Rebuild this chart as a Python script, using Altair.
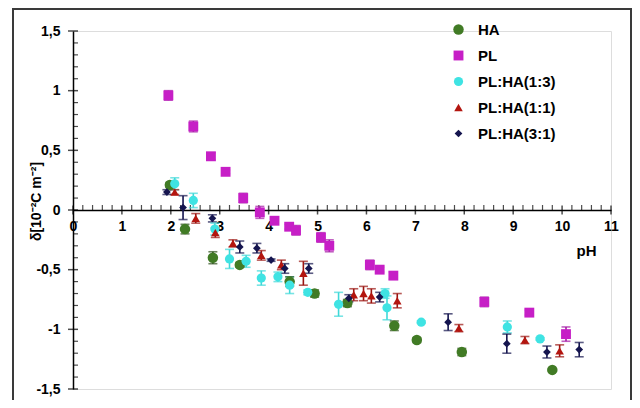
import altair as alt
import pandas as pd

series = ["HA", "PL", "PL:HA(1:3)", "PL:HA(1:1)", "PL:HA(3:1)"]
colors = ["#417b25", "#c61fc6", "#3fe3e3", "#b3150f", "#15154f"]
bar_colors = ["#2c4f1a", "#a51aa5", "#3fd8d8", "#9a1410", "#15154f"]
shapes = ["circle", "square", "circle", "triangle-up", "diamond"]
sizes = [110, 60, 50, 60, 40]

ha_x = [1.98, 2.29, 2.86, 3.41, 4.43, 4.94, 5.61, 6.57, 7.03, 7.95, 9.80]
ha_y = [0.21, -0.16, -0.40, -0.46, -0.60, -0.70, -0.78, -0.97, -1.09, -1.19, -1.34]
ha_e = [0.02, 0.04, 0.05, 0.02, 0.04, 0.03, 0.03, 0.04, 0.02, 0.03, 0.01]

pl_x = [1.95, 2.46, 2.82, 3.12, 3.48, 3.82, 4.12, 4.42, 4.56, 5.07, 5.24, 6.07, 6.27, 6.55, 8.41, 9.33, 10.08]
pl_y = [0.96, 0.70, 0.45, 0.32, 0.10, -0.02, -0.09, -0.14, -0.17, -0.23, -0.30, -0.46, -0.50, -0.55, -0.77, -0.86, -1.04]
pl_e = [0.04, 0.045, 0.03, 0.015, 0.04, 0.05, 0.015, 0.02, 0.04, 0.04, 0.05, 0.04, 0.02, 0.03, 0.04, 0.02, 0.06]

c13_x = [2.08, 2.46, 2.90, 3.20, 3.54, 3.85, 4.19, 4.43, 4.80, 5.43, 6.38, 6.42, 7.12, 8.88, 9.55]
c13_y = [0.22, 0.08, -0.16, -0.41, -0.43, -0.57, -0.56, -0.63, -0.69, -0.79, -0.70, -0.82, -0.94, -0.98, -1.08]
c13_e = [0.05, 0.06, 0.05, 0.08, 0.05, 0.06, 0.04, 0.07, 0.02, 0.10, 0.04, 0.10, 0.01, 0.05, 0.01]

c11_x = [2.08, 2.51, 2.91, 3.27, 3.85, 4.26, 4.71, 5.74, 5.94, 6.10, 6.63, 7.89, 9.24, 9.95]
c11_y = [0.15, -0.07, -0.19, -0.28, -0.38, -0.46, -0.53, -0.71, -0.70, -0.72, -0.76, -0.99, -1.09, -1.18]
c11_e = [0.02, 0.04, 0.04, 0.03, 0.04, 0.04, 0.10, 0.05, 0.06, 0.06, 0.06, 0.03, 0.03, 0.05]

c31_x = [1.92, 2.25, 2.85, 3.41, 3.76, 4.05, 4.33, 4.82, 5.64, 6.27, 7.67, 8.87, 9.69, 10.35]
c31_y = [0.15, 0.02, -0.07, -0.31, -0.32, -0.42, -0.49, -0.49, -0.74, -0.73, -0.94, -1.12, -1.19, -1.17]
c31_e = [0.02, 0.10, 0.03, 0.05, 0.04, 0.01, 0.04, 0.04, 0.03, 0.04, 0.07, 0.08, 0.05, 0.06]

x_major = list(range(0, 12))
x_minor = [round(i * 0.2, 1) for i in range(0, 56) if i % 5 != 0]
y_major = [-1.5, -1.0, -0.5, 0.0, 0.5, 1.0, 1.5]
y_minor = [round(-1.5 + i * 0.1, 1) for i in range(0, 31) if i % 5 != 0]

rows = []
for name, xs_, ys_, es_ in [
    ("PL:HA(1:3)", c13_x, c13_y, c13_e),
    ("PL:HA(1:1)", c11_x, c11_y, c11_e),
    ("PL:HA(3:1)", c31_x, c31_y, c31_e),
    ("PL", pl_x, pl_y, pl_e),
    ("HA", ha_x, ha_y, ha_e),
]:
    i = series.index(name)
    for x, y, e in zip(xs_, ys_, es_):
        rows.append({"series": name, "x": x, "y": y, "lo": y - e, "hi": y + e,
                     "bcol": bar_colors[i], "order": i})
df = pd.DataFrame(rows)

W, H = 538, 358
xs = alt.Scale(domain=[0, 11], nice=False, zero=False)
ys = alt.Scale(domain=[-1.5, 1.5], nice=False, zero=False)

x_axis = alt.Axis(
    values=x_major, offset=-H / 2, ticks=False, tickSize=0, grid=False,
    domainColor="black", domainWidth=1.5, labelPadding=9,
    labelFont="Liberation Sans", labelFontWeight="bold", labelFontSize=14,
    labelColor="black", labelFlush=False, labelOverlap=False,
    title="pH", titleX=513, titleY=33, titleFont="Liberation Sans",
    titleFontWeight="bold", titleFontSize=15, titleColor="black",
)
y_axis = alt.Axis(
    values=y_major, ticks=False, tickSize=0, grid=False,
    domainColor="black", domainWidth=1.5, labelPadding=13,
    labelFont="Liberation Sans", labelFontWeight="bold", labelFontSize=14,
    labelColor="black", labelFlush=False, labelOverlap=False,
    labelExpr="replace(toString(datum.value), '.', ',')",
    title="δ[10⁻²C m⁻²]", titleX=-37, titleY=170, titleAngle=270,
    titleBaseline="middle", titleAlign="center",
    titleFont="Liberation Sans", titleFontWeight="bold", titleFontSize=14,
    titleColor="black",
)

frame = alt.Chart(pd.DataFrame({"a": [0]})).mark_rect(
    filled=False, stroke="#3a3a3a", strokeWidth=2
).encode(
    x=alt.value(-60), x2=alt.value(558), y=alt.value(-22), y2=alt.value(384)
)

rules = alt.Chart(df).mark_rule(strokeWidth=1.6).encode(
    x=alt.X("x:Q", scale=xs, axis=x_axis),
    y=alt.Y("lo:Q", scale=ys, axis=y_axis),
    y2="hi:Q",
    stroke=alt.Stroke("bcol:N", scale=None, legend=None),
)
cap_lo = alt.Chart(df).mark_tick(orient="horizontal", size=9, thickness=1.6).encode(
    x=alt.X("x:Q", scale=xs), y=alt.Y("lo:Q", scale=ys),
    fill=alt.Fill("bcol:N", scale=None, legend=None),
)
cap_hi = alt.Chart(df).mark_tick(orient="horizontal", size=9, thickness=1.6).encode(
    x=alt.X("x:Q", scale=xs), y=alt.Y("hi:Q", scale=ys),
    fill=alt.Fill("bcol:N", scale=None, legend=None),
)

leg = alt.Legend(
    title=None, orient="none", legendX=378, legendY=-9,
    labelFont="Liberation Sans", labelFontWeight="bold",
    labelFontSize=15, labelColor="black", rowPadding=10,
    symbolSize=60, symbolStrokeWidth=0, labelOffset=12, padding=0)

points = alt.Chart(df).mark_point(filled=True, opacity=1).encode(
    x=alt.X("x:Q", scale=xs),
    y=alt.Y("y:Q", scale=ys),
    color=alt.Color("series:N", scale=alt.Scale(domain=series, range=colors), legend=leg),
    shape=alt.Shape("series:N", scale=alt.Scale(domain=series, range=shapes), legend=leg),
    size=alt.Size("series:N", scale=alt.Scale(domain=series, range=sizes), legend=None),
    order=alt.Order("order:Q"),
)

xt_major = alt.Chart(pd.DataFrame({"x": x_major, "y": [0] * len(x_major)})).mark_tick(
    orient="vertical", size=9, thickness=1.5, color="black"
).encode(x=alt.X("x:Q", scale=xs), y=alt.Y("y:Q", scale=ys))
xt_minor = alt.Chart(pd.DataFrame({"x": x_minor, "y": [0] * len(x_minor)})).mark_tick(
    orient="vertical", size=5, thickness=1.2, color="black", yOffset=-2.5
).encode(x=alt.X("x:Q", scale=xs), y=alt.Y("y:Q", scale=ys))
yt_major = alt.Chart(pd.DataFrame({"y": y_major, "x": [0] * len(y_major)})).mark_tick(
    orient="horizontal", size=10, thickness=1.5, color="black"
).encode(x=alt.X("x:Q", scale=xs), y=alt.Y("y:Q", scale=ys))
yt_minor = alt.Chart(pd.DataFrame({"y": y_minor, "x": [0] * len(y_minor)})).mark_tick(
    orient="horizontal", size=5, thickness=1.2, color="black", xOffset=2.5
).encode(x=alt.X("x:Q", scale=xs), y=alt.Y("y:Q", scale=ys))

chart = alt.layer(
    frame, xt_minor, xt_major, yt_minor, yt_major, rules, cap_lo, cap_hi, points
).properties(
    width=W, height=H,
    autosize=alt.AutoSizeParams(type="none"),
    padding={"left": 65, "top": 23, "right": 21, "bottom": 11},
).configure_view(stroke=None).configure(background="white")

chart.save("out.html", embed_options={"renderer": "svg", "actions": False})
